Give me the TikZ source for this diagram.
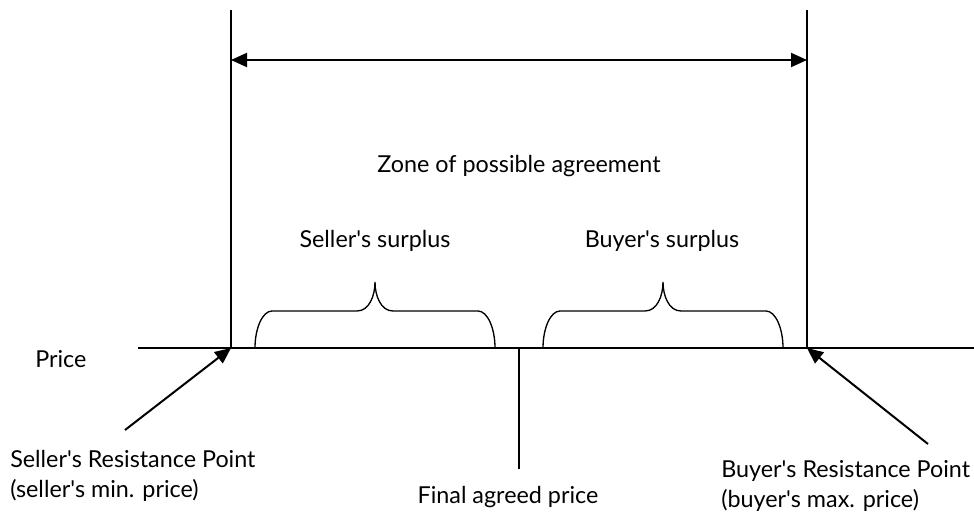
\documentclass[tikz,border=0pt]{standalone}
\usepackage{fontspec}
\setmainfont{Lato}
\usetikzlibrary{arrows.meta,positioning}
\newcommand{\ap}{\textquotesingle}

\begin{document}
\begin{tikzpicture}[x=0.75pt,y=-0.75pt,>={Triangle[length=12pt,width=10.5pt]},
  every node/.style={font=\fontsize{17.5}{22.5}\selectfont,inner sep=0pt},
  limit/.style={line width=1.5pt},
  pointer/.style={->,line width=1.5pt},
  txt/.style={anchor=base west,align=left},
  pics/zbrace/.style={code={
    \draw[line width=1pt] (0,0) .. controls (0,-20) and (7.6,-37) .. (17,-37)
      -- (102,-37) .. controls (114,-37) and (120,-52) .. (120,-66)
      .. controls (120,-52) and (126,-37) .. (138,-37) -- (223,-37)
      .. controls (232.4,-37) and (240,-20) .. (240,0);}}]
\useasboundingbox (0,0) rectangle (974,514);
% price axis and the two resistance points
\coordinate (ax0) at (138,348);
\coordinate (ax1) at (974,348);
\coordinate (srp) at (231,348);
\coordinate (brp) at (807,348);
\coordinate (srtop) at (231,10);
\coordinate (brtop) at (807,10);
\coordinate (fap) at (519,348);
\coordinate (fabot) at (519,469);
\draw[line width=1pt] (ax0) -- (ax1);
\draw[limit] (srp) -- (srtop);
\draw[limit] (brp) -- (brtop);
\draw[line width=1pt] (fap) -- (fabot);
% zone arrow
\coordinate (zl) at (231,60);
\coordinate (zr) at (807,60);
\draw[limit,<->] (zl) -- (zr);
% braces
\pic at (255,348) {zbrace};
\pic at (543,348) {zbrace};
% labels
\node[anchor=base west] (price) at (35,367) {Price};
\node[anchor=base] (zone) at (519,172) {Zone of possible agreement};
\node[anchor=base] (ssur) at (375,247) {Seller\ap s surplus};
\node[anchor=base] (bsur) at (662,247) {Buyer\ap s surplus};
\node[txt] (sres) at (10,497) {Seller\ap s Resistance Point\\(seller\ap s min. price)};
\node[txt] (bres) at (721,507) {Buyer\ap s Resistance Point\\(buyer\ap s max. price)};
\node[anchor=base] (fin) at (508,503) {Final agreed price};
% pointers
\coordinate (stail) at (125,430);
\coordinate (btail) at (928,444);
\draw[pointer] (stail) -- (srp);
\draw[pointer] (btail) -- (brp);
\end{tikzpicture}
\end{document}
